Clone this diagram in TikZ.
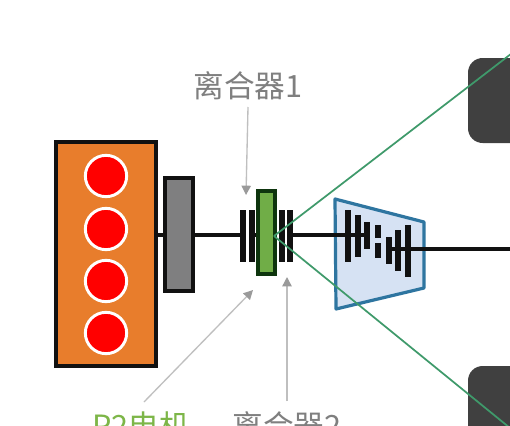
\documentclass[tikz,border=0pt]{standalone}
\usepackage{fontspec}
\newfontfamily\cjk{Noto Sans CJK SC}
\usetikzlibrary{arrows.meta}
\definecolor{engineorange}{HTML}{E87D2C}
\definecolor{housinggrey}{HTML}{7F7F80}
\definecolor{motorgreen}{HTML}{70AD47}
\definecolor{gearfill}{HTML}{D6E2F3}
\definecolor{gearedge}{HTML}{2E75A0}
\definecolor{barblack}{HTML}{111111}
\definecolor{wheeldark}{HTML}{404040}
\definecolor{ratio}{HTML}{3F9A6B}
\definecolor{labelgrey}{HTML}{7F7F7F}
\definecolor{labelgreen}{HTML}{7DB648}
\definecolor{leadgrey}{HTML}{BFBFBF}
\definecolor{tipgrey}{HTML}{9A9A9A}
\tikzset{
  cyl/.style={circle,draw=white,line width=2.2pt,fill=red,minimum size=31pt,inner sep=0pt},
  shaftline/.style={draw=barblack,line width=3pt},
  bar/.style={draw=barblack,line width=4pt},
  ratioline/.style={draw=ratio,line width=1.3pt},
  lead/.style={draw=leadgrey,line width=1pt,-{Triangle[length=7pt,width=7pt,color=tipgrey]}},
  lab/.style={font=\cjk\fontsize{23pt}{25pt}\selectfont,text=labelgrey,inner sep=0pt},
}
\begin{document}
\begin{tikzpicture}[x=0.75pt,y=-0.75pt]
\useasboundingbox (0,0) rectangle (510,425);
\clip (0,0) rectangle (510,425);
\fill[white] (0,0) rectangle (510,425);
% wheels
\fill[wheeldark,rounded corners=11pt] (468,58) rectangle (540,143);
\fill[wheeldark,rounded corners=11pt] (468,366) rectangle (540,450);
% engine
\draw[draw=barblack,line width=3pt,fill=engineorange] (56,142) rectangle (156,366);
\coordinate (engineE) at (156,235);
\foreach \n/\y in {a/176,b/229,c/281,d/333}{
  \node[cyl] (cyl\n) at (106,\y) {};
}
% shafts
\coordinate (clutchL) at (243,235);
\coordinate (clutchR) at (290,235);
\coordinate (gearIn) at (367,235);
\coordinate (gearOut) at (389,249);
\coordinate (driveEnd) at (510,249);
\draw[shaftline] (engineE) -- (clutchL);
\draw[shaftline] (252,235) -- (258,235);
% gearbox
\draw[draw=gearedge,line width=2.4pt,fill=gearfill,line join=round] (335,199) -- (424,222) -- (424,288) -- (336,309) -- cycle;
\draw[shaftline] (clutchR) -- (gearIn);
\draw[shaftline] (gearOut) -- (driveEnd);
% flywheel housing
\draw[draw=barblack,line width=2.6pt,fill=housinggrey] (165,178) rectangle (193,291);
% clutches
\foreach \x in {243,252,282,290}{
  \draw[bar] (\x,210) -- (\x,262);
}
\draw[draw=barblack!85!green,line width=3pt,fill=motorgreen] (258,191) rectangle (275,274);
% gears
\draw[bar] (348,210) -- (348,262);
\draw[bar] (358,215) -- (358,257);
\draw[bar] (367,222) -- (367,249);
\draw[bar] (378,225) -- (378,238);
\draw[bar] (378,243) -- (378,258);
\draw[bar] (389,237) -- (389,264);
\draw[bar] (398,230) -- (398,271);
\draw[bar] (408,225) -- (408,277);
% steering lines
\coordinate (apex) at (274,236);
\coordinate (upEnd) at (520,47);
\coordinate (lowEnd) at (510,428);
\draw[ratioline] (apex) -- (upEnd);
\draw[ratioline] (apex) -- (lowEnd);
% labels
\node[lab] (c1) at (248,86) {离合器1};
\node[lab] (c2) at (287,426) {离合器2};
\node[lab,text=labelgreen] (p2) at (141,426) {P2电机};
\coordinate (c1tip) at (246,195);
\coordinate (c2tip) at (287,277);
\coordinate (p2tip) at (253,290);
\coordinate (c2tail) at (287,401);
\coordinate (p2tail) at (144,402);
\draw[lead] (248,107) -- (c1tip);
\draw[lead] (c2tail) -- (c2tip);
\draw[lead] (p2tail) -- (p2tip);
\end{tikzpicture}
\end{document}
